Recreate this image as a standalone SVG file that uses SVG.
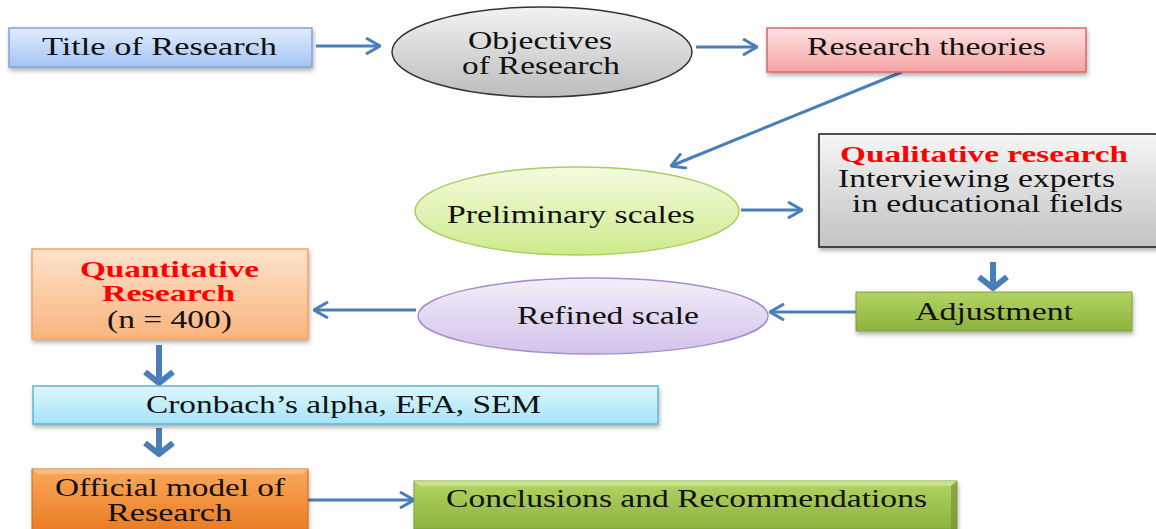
<svg xmlns="http://www.w3.org/2000/svg" width="1156" height="529" viewBox="0 0 1156 529">
<defs>
<style>
.t{font-family:"Liberation Serif","Times New Roman",serif;font-size:25px;fill:#111;}
.r{font-family:"Liberation Serif","Times New Roman",serif;font-size:23px;font-weight:bold;fill:#ff0000;}
.c{stroke:#4a7ebb;stroke-width:3;fill:none;}
.d{stroke:#4a7ebb;stroke-width:6;fill:none;}
</style>
<linearGradient id="gBlue" x1="0" y1="0" x2="0" y2="1"><stop offset="0" stop-color="#e2edfc"/><stop offset="1" stop-color="#a3c3f3"/></linearGradient>
<linearGradient id="gGray" x1="0" y1="0" x2="0" y2="1"><stop offset="0" stop-color="#f2f2f2"/><stop offset="1" stop-color="#bdbdbd"/></linearGradient>
<linearGradient id="gPink" x1="0" y1="0" x2="0" y2="1"><stop offset="0" stop-color="#fde2e2"/><stop offset="1" stop-color="#f5a3a3"/></linearGradient>
<linearGradient id="gLime" x1="0" y1="0" x2="0" y2="1"><stop offset="0" stop-color="#f3fcdf"/><stop offset="1" stop-color="#cdea8c"/></linearGradient>
<linearGradient id="gGray2" x1="0" y1="0" x2="0" y2="1"><stop offset="0" stop-color="#f6f6f6"/><stop offset="1" stop-color="#c2c2c2"/></linearGradient>
<linearGradient id="gGreen" x1="0" y1="0" x2="0" y2="1"><stop offset="0" stop-color="#b3d464"/><stop offset="1" stop-color="#8db23e"/></linearGradient>
<linearGradient id="gPurple" x1="0" y1="0" x2="0" y2="1"><stop offset="0" stop-color="#f3eefa"/><stop offset="1" stop-color="#d2c3ea"/></linearGradient>
<linearGradient id="gPeach" x1="0" y1="0" x2="0" y2="1"><stop offset="0" stop-color="#fde3cc"/><stop offset="1" stop-color="#fab47c"/></linearGradient>
<linearGradient id="gCyan" x1="0" y1="0" x2="0" y2="1"><stop offset="0" stop-color="#def6fd"/><stop offset="1" stop-color="#a6e3f8"/></linearGradient>
<linearGradient id="gOrange" x1="0" y1="0" x2="0" y2="1"><stop offset="0" stop-color="#faa85c"/><stop offset="1" stop-color="#e8791f"/></linearGradient>
<filter id="sh" x="-10%" y="-20%" width="120%" height="150%"><feDropShadow dx="1" dy="3" stdDeviation="2" flood-color="#000" flood-opacity="0.3"/></filter>
<marker id="ah" viewBox="0 0 16 18" refX="15" refY="9" markerWidth="16" markerHeight="18" markerUnits="userSpaceOnUse" orient="auto"><path d="M1,1 L15,9 L1,17" fill="none" stroke="#4a7ebb" stroke-width="3"/></marker>
<marker id="ahd" viewBox="0 0 16 32" refX="13" refY="16" markerWidth="16" markerHeight="32" markerUnits="userSpaceOnUse" orient="auto"><path d="M2,2 L13,16 L2,30" fill="none" stroke="#4a7ebb" stroke-width="6"/></marker>
</defs>

<g id="connectors">
<line class="c" x1="316" y1="46" x2="380" y2="46" marker-end="url(#ah)"/>
<line class="c" x1="696" y1="47" x2="757" y2="47" marker-end="url(#ah)"/>
<line class="c" x1="902" y1="72" x2="671" y2="166" marker-end="url(#ah)"/>
<line class="c" x1="741" y1="210" x2="802" y2="210" marker-end="url(#ah)"/>
<line class="d" x1="993" y1="262" x2="993" y2="288" marker-end="url(#ahd)"/>
<line class="c" x1="856" y1="312" x2="770" y2="312" marker-end="url(#ah)"/>
<line class="c" x1="416" y1="310" x2="314" y2="310" marker-end="url(#ah)"/>
<line class="d" x1="159" y1="345" x2="159" y2="383" marker-end="url(#ahd)"/>
<line class="d" x1="159" y1="428" x2="159" y2="454" marker-end="url(#ahd)"/>
<line class="c" x1="308" y1="500" x2="414" y2="500" marker-end="url(#ah)"/>
</g>

<g id="title">
<rect x="9" y="28" width="303" height="39" fill="url(#gBlue)" stroke="#7ea4d8" stroke-width="1.5" filter="url(#sh)"/>
<text class="t" x="42" y="55" textLength="235" lengthAdjust="spacingAndGlyphs">Title of Research</text>
</g>

<g id="objectives">
<ellipse cx="542" cy="52" rx="150" ry="45" fill="url(#gGray)" stroke="#333" stroke-width="1.5"/>
<text class="t" x="468" y="49" textLength="144" lengthAdjust="spacingAndGlyphs">Objectives</text>
<text class="t" x="462" y="74" textLength="158" lengthAdjust="spacingAndGlyphs">of Research</text>
</g>

<g id="theories">
<rect x="767" y="28" width="319" height="44" fill="url(#gPink)" stroke="#d46a6a" stroke-width="1.5" filter="url(#sh)"/>
<text class="t" x="807" y="55" textLength="239" lengthAdjust="spacingAndGlyphs">Research theories</text>
</g>

<g id="preliminary">
<ellipse cx="577" cy="211" rx="162" ry="44" fill="url(#gLime)" stroke="#a9cd62" stroke-width="1.5"/>
<text class="t" x="447" y="223" textLength="248" lengthAdjust="spacingAndGlyphs">Preliminary scales</text>
</g>

<g id="qualitative">
<rect x="819" y="134" width="345" height="113" fill="url(#gGray2)" stroke="#1a1a1a" stroke-width="1.5" filter="url(#sh)"/>
<text class="r" x="840" y="162" textLength="288" lengthAdjust="spacingAndGlyphs">Qualitative research</text>
<text class="t" x="838" y="187" textLength="277" lengthAdjust="spacingAndGlyphs">Interviewing experts</text>
<text class="t" x="852" y="212" textLength="271" lengthAdjust="spacingAndGlyphs">in educational fields</text>
</g>

<g id="adjustment">
<rect x="856" y="292" width="276" height="39" fill="url(#gGreen)" stroke="#7f9f3a" stroke-width="1" filter="url(#sh)"/>
<text class="t" x="915" y="320" textLength="158" lengthAdjust="spacingAndGlyphs">Adjustment</text>
</g>

<g id="refined">
<ellipse cx="593" cy="316" rx="175" ry="38" fill="url(#gPurple)" stroke="#a390cb" stroke-width="1.5"/>
<text class="t" x="517" y="324" textLength="182" lengthAdjust="spacingAndGlyphs">Refined scale</text>
</g>

<g id="quantitative">
<rect x="32" y="249" width="276" height="90" fill="url(#gPeach)" stroke="#f4a261" stroke-width="1.5" filter="url(#sh)"/>
<text class="r" x="80" y="277" textLength="179" lengthAdjust="spacingAndGlyphs">Quantitative</text>
<text class="r" x="102" y="301" textLength="133" lengthAdjust="spacingAndGlyphs">Research</text>
<text class="t" x="107" y="328" textLength="125" lengthAdjust="spacingAndGlyphs">(n = 400)</text>
</g>

<g id="cronbach">
<rect x="33" y="386" width="625" height="38" fill="url(#gCyan)" stroke="#5db7d2" stroke-width="1.5" filter="url(#sh)"/>
<text class="t" x="146" y="413" textLength="395" lengthAdjust="spacingAndGlyphs">Cronbach’s alpha, EFA, SEM</text>
</g>

<g id="official">
<rect x="32" y="469" width="276" height="66" fill="url(#gOrange)" stroke="#c9671a" stroke-width="1" filter="url(#sh)"/>
<path d="M32,469 L308,469 L302,474 L38,474 Z" fill="#fcc48a" opacity="0.7"/>
<text class="t" x="55" y="496" textLength="230" lengthAdjust="spacingAndGlyphs">Official model of</text>
<text class="t" x="107" y="521" textLength="125" lengthAdjust="spacingAndGlyphs">Research</text>
</g>

<g id="conclusions">
<rect x="414" y="481" width="543" height="48" fill="url(#gGreen)" stroke="#7f9f3a" stroke-width="1" filter="url(#sh)"/>
<path d="M414,481 L957,481 L951,486 L420,486 Z" fill="#d2ea98" opacity="0.7"/>
<path d="M957,481 L957,529 L951,529 L951,486 Z" fill="#6f8f2c" opacity="0.6"/>
<text class="t" x="446" y="507" textLength="481" lengthAdjust="spacingAndGlyphs">Conclusions and Recommendations</text>
</g>
</svg>
